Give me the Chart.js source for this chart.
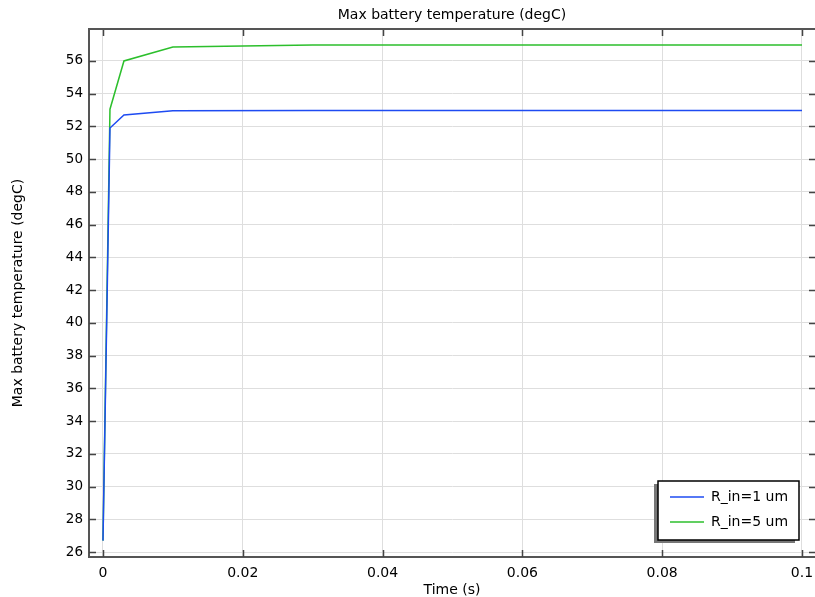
<!DOCTYPE html>
<html lang="en">

<head>
  <meta charset="UTF-8">
  <title>Max battery temperature</title>
  <script src="https://cdn.jsdelivr.net/npm/chart.js"></script>
  <style>
    html, body { margin: 0; padding: 0; background: #fff; }
    #wrap { width: 815px; height: 597px; }
  </style>
</head>

<body>
  <div id="wrap"><canvas id="tempChart"></canvas></div>

  <script>
    // values
    const times = [0, 0.001, 0.003, 0.01, 0.03, 0.1];
    const tempR1 = [26.7, 51.9, 52.7, 52.95, 52.97, 52.97];
    const tempR5 = [26.7, 53.05, 56.0, 56.85, 56.97, 56.97];
    const seriesNames = ['R_in=1 um', 'R_in=5 um'];
    const xTicks = [0, 0.02, 0.04, 0.06, 0.08, 0.1];
    const yTicks = [26, 28, 30, 32, 34, 36, 38, 40, 42, 44, 46, 48, 50, 52, 54, 56];

    const font = 'DejaVu Sans';
    const pts = ys => times.map((t, i) => ({ x: t, y: ys[i] }));

    // inward tick marks on all four sides + top frame line
    const frame = {
      id: 'frame',
      afterDatasetsDraw(chart) {
        const { ctx, chartArea: a, scales } = chart;
        ctx.save();
        ctx.strokeStyle = '#444';
        ctx.lineWidth = 1.5;
        ctx.beginPath();
        scales.x.ticks.forEach(t => {
          const px = Math.round(scales.x.getPixelForValue(t.value)) + 0.5;
          ctx.moveTo(px, a.bottom); ctx.lineTo(px, a.bottom - 7);
          ctx.moveTo(px, a.top); ctx.lineTo(px, a.top + 7);
        });
        scales.y.ticks.forEach(t => {
          const py = Math.round(scales.y.getPixelForValue(t.value)) + 0.5;
          ctx.moveTo(a.left, py); ctx.lineTo(a.left + 7, py);
          ctx.moveTo(a.right, py); ctx.lineTo(a.right - 6, py);
        });
        ctx.stroke();
        ctx.strokeStyle = '#555';
        ctx.lineWidth = 2;
        ctx.beginPath();
        ctx.moveTo(a.left, a.top); ctx.lineTo(a.right, a.top);
        ctx.stroke();
        ctx.restore();
      }
    };

    // boxed legend with shadow, lower right
    const boxLegend = {
      id: 'boxLegend',
      afterDraw(chart) {
        const { ctx } = chart;
        const x = 658, y = 481, w = 141, h = 59;
        ctx.save();
        ctx.fillStyle = '#777';
        ctx.fillRect(x - 4, y + 3, w, h);
        ctx.fillStyle = '#fff';
        ctx.fillRect(x, y, w, h);
        ctx.strokeStyle = '#000';
        ctx.lineWidth = 1.5;
        ctx.strokeRect(x, y, w, h);
        ctx.font = '14px "' + font + '"';
        ctx.textBaseline = 'middle';
        chart.data.datasets.forEach((ds, i) => {
          const ly = y + 16 + i * 25;
          ctx.strokeStyle = ds.borderColor;
          ctx.lineWidth = 1.5;
          ctx.beginPath();
          ctx.moveTo(x + 12, ly); ctx.lineTo(x + 46, ly);
          ctx.stroke();
          ctx.fillStyle = '#000';
          ctx.fillText(ds.label, x + 53, ly);
        });
        ctx.restore();
      }
    };

    new Chart(document.getElementById('tempChart'), {
      type: 'line',
      data: {
        datasets: [{
          label: seriesNames[0],
          data: pts(tempR1),
          borderColor: '#1e4bf2',
          borderWidth: 1.5,
          pointRadius: 0,
          tension: 0
        }, {
          label: seriesNames[1],
          data: pts(tempR5),
          borderColor: '#2cbf2c',
          borderWidth: 1.5,
          pointRadius: 0,
          tension: 0
        }]
      },
      options: {
        responsive: true,
        maintainAspectRatio: false,
        animation: false,
        layout: { padding: 0 },
        plugins: {
          legend: { display: false },
          tooltip: { enabled: false },
          title: {
            display: true,
            text: 'Max battery temperature (degC)',
            fullSize: false,
            color: '#000',
            font: { family: font, size: 14, weight: 'normal' },
            padding: { top: 7, bottom: 5.2 }
          }
        },
        scales: {
          x: {
            type: 'linear',
            min: -0.002,
            max: 0.10186,
            afterBuildTicks: s => { s.ticks = xTicks.map(v => ({ value: v })); },
            afterFit: s => { s.height = 40; s.paddingLeft = 0; s.paddingRight = 0; },
            ticks: {
              color: '#000',
              font: { family: font, size: 14 },
              padding: 8,
              maxRotation: 0,
              callback: v => String(v)
            },
            grid: { color: '#dedede', drawTicks: false },
            border: { color: '#555', width: 2 },
            title: {
              display: true,
              text: 'Time (s)',
              color: '#000',
              font: { family: font, size: 14 },
              padding: { top: 0, bottom: -2 }
            }
          },
          y: {
            min: 25.7,
            max: 57.95,
            afterBuildTicks: s => { s.ticks = yTicks.map(v => ({ value: v })); },
            afterFit: s => { s.width = 89; s.paddingTop = 0; s.paddingBottom = 0; },
            ticks: {
              color: '#000',
              font: { family: font, size: 13.5 },
              padding: 6
            },
            grid: { color: '#dedede', drawTicks: false },
            border: { color: '#555', width: 2 },
            title: {
              display: true,
              text: 'Max battery temperature (degC)',
              color: '#000',
              font: { family: font, size: 14 },
              padding: { top: 10, bottom: 0 }
            }
          }
        }
      },
      plugins: [frame, boxLegend]
    });
  </script>
</body>

</html>
